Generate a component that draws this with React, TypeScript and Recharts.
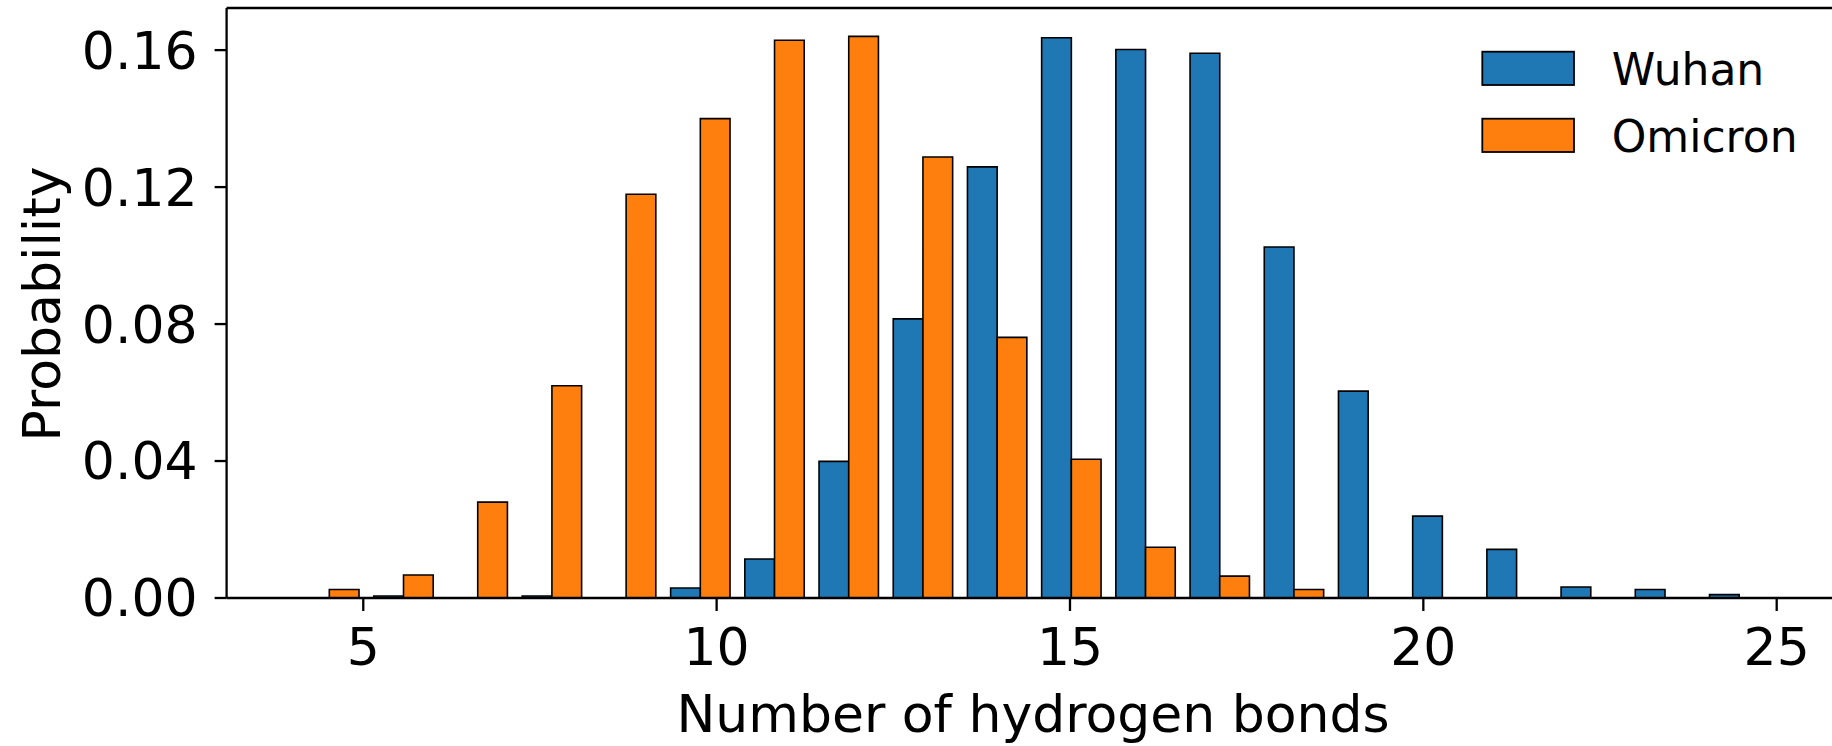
import React from 'react';
import { BarChart, Bar, XAxis, YAxis, Legend, ReferenceLine, Label } from 'recharts';

// Histogram bin centres (20 bins of width 1.05 between 4 and 25)
const binCenters = [
  4.525, 5.575, 6.625, 7.675, 8.725, 9.775, 10.825, 11.875, 12.925, 13.975,
  15.025, 16.075, 17.125, 18.175, 19.225, 20.275, 21.325, 22.375, 23.425, 24.475,
];

const wuhanValues = [
  0, 0.0006, 0, 0.0006, 0, 0.0029, 0.0114, 0.0399, 0.0815, 0.1259,
  0.1636, 0.1602, 0.1591, 0.1025, 0.0604, 0.0239, 0.0142, 0.0032, 0.0025, 0.001,
];

const omicronValues = [
  0.0025, 0.0067, 0.028, 0.062, 0.1179, 0.14, 0.1629, 0.164, 0.1288, 0.0761,
  0.0405, 0.0148, 0.0064, 0.0025, 0, 0, 0, 0, 0, 0,
];

const xTicks = [5, 10, 15, 20, 25];
const yTicks = [0, 0.04, 0.08, 0.12, 0.16];
const xDomain: [number, number] = [3.066, 25.934];
const yDomain: [number, number] = [0, 0.1723];

const seriesNames = ['Wuhan', 'Omicron'];
const seriesColors: Record<string, string> = { Wuhan: '#1f77b4', Omicron: '#ff7f0e' };

const data = binCenters.map((x, i) => ({
  x,
  Wuhan: wuhanValues[i],
  Omicron: omicronValues[i],
}));

const FONT = '"DejaVu Sans", sans-serif';
const SPINE = 2.3;

const renderLegend = () => {
  return (
    <svg width={360} height={130} style={{ display: 'block' }}>
      {seriesNames.map((name, i) => (
        <g key={name}>
          <rect
            x={12.3}
            y={11.7 + i * 67}
            width={91.7}
            height={33.3}
            fill={seriesColors[name]}
            stroke="#000"
            strokeWidth={1.8}
          />
          <text x={141.7} y={45 + i * 66.7} fontSize={44} fontFamily={FONT} fill="#000">
            {name}
          </text>
        </g>
      ))}
    </svg>
  );
};

export default function App() {
  return (
    <div
      style={{
        position: 'fixed',
        left: 0,
        top: 0,
        width: 1832,
        height: 746,
        overflow: 'hidden',
        background: '#fff',
      }}
    >
      <BarChart
        width={1860}
        height={746}
        data={data}
        margin={{ top: 8, right: 17.3, bottom: 0, left: 0 }}
        barGap={0}
      >
        <XAxis
          dataKey="x"
          type="number"
          domain={xDomain}
          allowDataOverflow
          ticks={xTicks}
          interval={0}
          height={148}
          tickSize={13}
          tickMargin={17}
          axisLine={{ stroke: '#000', strokeWidth: SPINE }}
          tickLine={{ stroke: '#000', strokeWidth: SPINE }}
          tick={{ fill: '#000', fontSize: 52, fontFamily: FONT }}
          tickFormatter={(v: number) => String(v)}
        >
          <Label
            content={() => (
              <text x={1033} y={731.7} textAnchor="middle" fontSize={52} fontFamily={FONT} fill="#000">
                Number of hydrogen bonds
              </text>
            )}
          />
        </XAxis>
        <YAxis
          type="number"
          domain={yDomain}
          allowDataOverflow
          ticks={yTicks}
          interval={0}
          width={226.6}
          tickSize={12}
          tickMargin={17}
          axisLine={{ stroke: '#000', strokeWidth: SPINE }}
          tickLine={{ stroke: '#000', strokeWidth: SPINE }}
          tick={{ fill: '#000', fontSize: 52, fontFamily: FONT }}
          tickFormatter={(v: number) => v.toFixed(2)}
        >
          <Label
            content={() => (
              <text
                x={59.6}
                y={304}
                transform="rotate(-90 59.6 304)"
                textAnchor="middle"
                fontSize={52}
                fontFamily={FONT}
                fill="#000"
              >
                Probability
              </text>
            )}
          />
        </YAxis>
        <ReferenceLine y={yDomain[1]} stroke="#000" strokeWidth={SPINE} ifOverflow="extendDomain" />
        <ReferenceLine x={xDomain[1]} stroke="#000" strokeWidth={SPINE} ifOverflow="extendDomain" />
        <Bar
          dataKey="Wuhan"
          name="Wuhan"
          fill={seriesColors.Wuhan}
          stroke="#000"
          strokeWidth={1.6}
          barSize={29.7}
          isAnimationActive={false}
        />
        <Bar
          dataKey="Omicron"
          name="Omicron"
          fill={seriesColors.Omicron}
          stroke="#000"
          strokeWidth={1.6}
          barSize={29.7}
          isAnimationActive={false}
        />
        <Legend
          layout="vertical"
          align="center"
          verticalAlign="middle"
          content={renderLegend}
          wrapperStyle={{ left: 1470, top: 40, width: 360, height: 130 }}
        />
      </BarChart>
    </div>
  );
}
